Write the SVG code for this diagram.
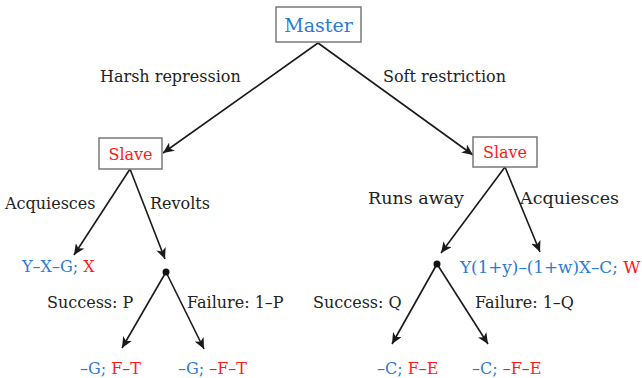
<svg xmlns="http://www.w3.org/2000/svg" width="642" height="378" viewBox="0 0 642 378">
<style>
text{font-family:"DejaVu Serif","Liberation Serif",serif;font-size:16px;fill:#222}
.b{fill:#2a7bd4}
.r{fill:#ff1a1a}
.box{fill:#fff;stroke:#7a7a7a;stroke-width:1.5}
.c line{stroke:#1a1a1a;stroke-width:1.6}
</style>
<defs>
<marker id="ah" viewBox="0 0 12 10" refX="11" refY="5" markerWidth="12" markerHeight="10" markerUnits="userSpaceOnUse" orient="auto">
<path d="M0,0 L11,5 L0,10 L3,5 Z" fill="#1a1a1a"/>
</marker>
</defs>
<g class="c" id="connectors">
<line x1="318" y1="43" x2="163" y2="153" marker-end="url(#ah)"/>
<line x1="318" y1="43" x2="473" y2="155" marker-end="url(#ah)"/>
<line x1="130" y1="169" x2="74" y2="255" marker-end="url(#ah)"/>
<line x1="130" y1="169" x2="165" y2="259" marker-end="url(#ah)"/>
<line x1="166" y1="272" x2="122" y2="348" marker-end="url(#ah)"/>
<line x1="166" y1="272" x2="204" y2="349" marker-end="url(#ah)"/>
<line x1="505" y1="167" x2="441" y2="253" marker-end="url(#ah)"/>
<line x1="505" y1="167" x2="540" y2="252" marker-end="url(#ah)"/>
<line x1="437" y1="264" x2="392" y2="344" marker-end="url(#ah)"/>
<line x1="437" y1="264" x2="488" y2="344" marker-end="url(#ah)"/>
<circle cx="166" cy="272" r="3.5" fill="#111"/>
<circle cx="437" cy="264" r="3.5" fill="#111"/>
<text x="100" y="82">Harsh repression</text>
<text x="383" y="82">Soft restriction</text>
<text x="5" y="209">Acquiesces</text>
<text x="150" y="209">Revolts</text>
<text x="368" y="204" style="font-size:17.5px">Runs away</text>
<text x="520" y="204" style="font-size:17.5px">Acquiesces</text>
<text x="47" y="308">Success: P</text>
<text x="187" y="308">Failure: 1–P</text>
<text x="313" y="308">Success: Q</text>
<text x="475" y="308">Failure: 1–Q</text>
</g>
<g id="master">
<rect class="box" x="276" y="7" width="85" height="35"/>
<text class="b" x="318.5" y="32" text-anchor="middle" style="font-size:19px">Master</text>
</g>
<g id="slave-left">
<rect class="box" x="99" y="138" width="63" height="31"/>
<text class="r" x="130.5" y="160" text-anchor="middle">Slave</text>
</g>
<g id="slave-right">
<rect class="box" x="473" y="137" width="64" height="30"/>
<text class="r" x="505" y="158" text-anchor="middle">Slave</text>
</g>
<g id="payoff-acq-left"><text x="22" y="272"><tspan class="b">Y–X–G; </tspan><tspan class="r">X</tspan></text></g>
<g id="payoff-acq-right"><text x="460" y="273" style="font-size:16.8px"><tspan class="b">Y(1+y)–(1+w)X–C; </tspan><tspan class="r">W</tspan></text></g>
<g id="payoff-ls"><text x="80" y="374"><tspan class="b">–G; </tspan><tspan class="r">F–T</tspan></text></g>
<g id="payoff-lf"><text x="178" y="374"><tspan class="b">–G; </tspan><tspan class="r">–F–T</tspan></text></g>
<g id="payoff-rs"><text x="377" y="374"><tspan class="b">–C; </tspan><tspan class="r">F–E</tspan></text></g>
<g id="payoff-rf"><text x="472" y="374"><tspan class="b">–C; </tspan><tspan class="r">–F–E</tspan></text></g>
</svg>
